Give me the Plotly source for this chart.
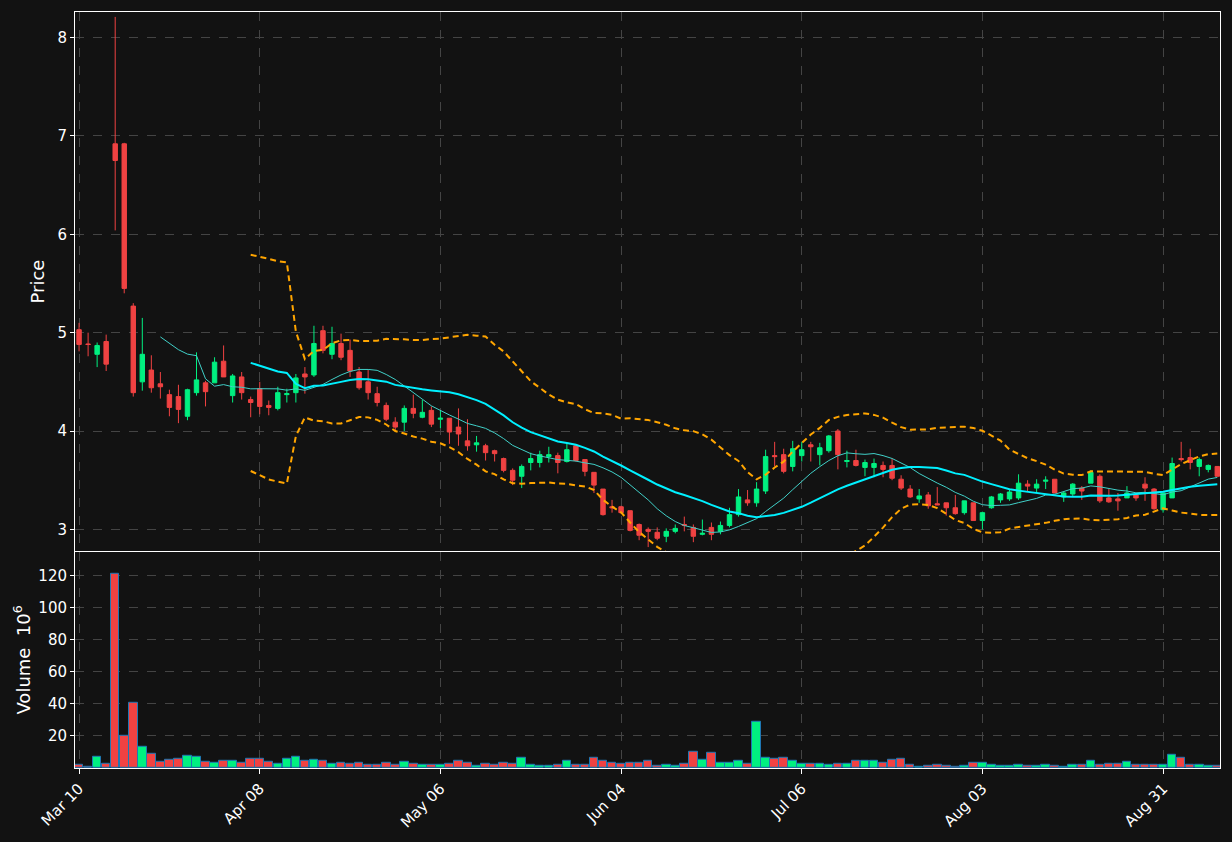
import plotly.graph_objects as go
import pandas as pd

opens = [5.03,4.885,4.78,4.91,6.92,6.92,5.27,4.50,4.62,4.48,4.37,4.35,4.15,4.39,4.49,4.49,4.71,4.36,4.55,4.32,
         4.43,4.26,4.23,4.37,4.39,4.58,4.57,5.02,4.78,4.89,4.82,4.60,4.50,4.38,4.26,4.09,4.09,4.23,4.14,4.21,
         4.12,4.13,4.04,3.90,3.86,3.85,3.80,3.72,3.60,3.54,3.68,3.68,3.74,3.75,3.69,3.85,3.71,3.58,3.41,3.23,
         3.23,3.19,3.05,3.00,2.97,2.93,2.98,3.05,3.02,2.95,3.02,2.98,3.04,3.15,3.30,3.27,3.39,3.75,3.76,3.64,
         3.75,3.86,3.76,3.80,4.00,3.69,3.70,3.63,3.63,3.65,3.65,3.51,3.41,3.31,3.35,3.26,3.27,3.22,3.17,3.27,
         3.09,3.22,3.30,3.31,3.32,3.46,3.42,3.49,3.51,3.33,3.36,3.42,3.47,3.54,3.32,3.31,3.32,3.35,3.46,3.41,
         3.20,3.32,3.72,3.73,3.64,3.61,3.64]
highs = [5.10,5.00,4.90,4.98,8.21,6.93,5.30,5.15,4.77,4.60,4.42,4.47,4.43,4.80,4.51,4.75,4.87,4.58,4.60,4.35,
         4.50,4.31,4.45,4.43,4.58,4.65,5.07,5.07,5.06,4.99,4.93,4.65,4.62,4.45,4.29,4.14,4.26,4.37,4.32,4.25,
         4.21,4.13,4.23,4.12,3.95,3.87,3.81,3.73,3.62,3.66,3.78,3.80,3.84,3.78,3.88,3.86,3.71,3.58,3.41,3.30,
         3.24,3.19,3.06,3.02,3.02,3.01,3.05,3.13,3.05,3.10,3.07,3.08,3.22,3.41,3.40,3.48,3.81,3.89,3.82,3.90,
         3.89,3.89,3.88,3.96,4.02,3.80,3.81,3.71,3.72,3.69,3.72,3.55,3.45,3.41,3.38,3.43,3.27,3.35,3.29,3.27,
         3.18,3.34,3.37,3.41,3.56,3.50,3.51,3.54,3.51,3.39,3.47,3.44,3.60,3.56,3.41,3.37,3.44,3.36,3.53,3.42,
         3.37,3.73,3.89,3.82,3.73,3.66,3.64]
lows = [4.81,4.76,4.65,4.61,6.04,5.40,4.35,4.41,4.39,4.33,4.15,4.08,4.11,4.36,4.25,4.49,4.55,4.29,4.32,4.14,
        4.17,4.16,4.21,4.29,4.29,4.38,4.55,4.79,4.73,4.72,4.55,4.42,4.32,4.25,4.10,4.01,4.00,4.13,4.13,4.04,
        4.03,3.87,3.85,3.80,3.79,3.70,3.69,3.58,3.45,3.42,3.60,3.63,3.68,3.57,3.68,3.69,3.54,3.37,3.14,3.17,
        3.16,2.98,2.89,2.82,2.89,2.87,2.96,2.98,2.87,2.94,2.89,2.95,3.02,3.13,3.24,3.23,3.36,3.64,3.57,3.59,
        3.69,3.69,3.65,3.78,3.61,3.63,3.64,3.54,3.53,3.53,3.50,3.40,3.32,3.27,3.21,3.25,3.14,3.15,3.15,3.09,
        3.00,3.21,3.27,3.29,3.30,3.39,3.37,3.41,3.37,3.28,3.34,3.30,3.47,3.27,3.27,3.19,3.32,3.29,3.29,3.20,
        3.17,3.32,3.69,3.61,3.54,3.58,3.54]
closes = [4.88,4.88,4.87,4.68,6.75,5.45,4.39,4.78,4.44,4.45,4.24,4.22,4.42,4.52,4.40,4.70,4.55,4.56,4.39,4.29,
          4.25,4.24,4.39,4.38,4.54,4.55,4.89,4.82,4.89,4.75,4.61,4.44,4.39,4.29,4.12,4.04,4.23,4.18,4.19,4.07,
          4.13,3.99,3.97,3.85,3.88,3.78,3.77,3.60,3.50,3.64,3.72,3.76,3.76,3.68,3.81,3.70,3.59,3.45,3.15,3.22,
          3.17,2.99,2.94,2.98,2.91,2.98,3.01,3.04,2.93,2.96,2.95,3.04,3.15,3.33,3.27,3.41,3.74,3.74,3.59,3.82,
          3.81,3.84,3.83,3.95,3.76,3.70,3.65,3.68,3.67,3.61,3.52,3.42,3.33,3.34,3.24,3.25,3.22,3.16,3.29,3.09,
          3.17,3.33,3.36,3.38,3.47,3.44,3.46,3.50,3.37,3.37,3.46,3.39,3.58,3.29,3.28,3.29,3.37,3.32,3.42,3.21,
          3.37,3.67,3.71,3.68,3.71,3.65,3.54]
volumes = [2,1,7,2.5,121,20,41,13,8.7,4,5,6,7.6,7,4,3,4.5,4.5,3,6,
           6,4,2.5,6,7,4.5,5,4.5,2.5,3,2.5,3,2,2,3,2,4,2.5,2,2,
           2,2.5,4.5,3,1.2,2.5,2,3,2.5,6.4,2,1.2,1.2,2,4.5,2,2,6.4,4.5,3,
           2.5,3,3,4.5,1.2,2,1.2,2.5,10,5,9.5,3,3,4.5,2.5,28.7,6.4,5.8,6.4,4.5,
           2.5,2.5,2.5,2,2.5,2.5,4.5,4.5,4.5,3,5,5.8,2,0.8,1.2,2,1.2,0.6,1.2,3,
           3,2,1.2,1.2,2,1.2,1.2,2,1.2,0.6,2,2,4.5,2,2.5,2.5,4,2,2,2,
           2,8.2,6.4,2,2,1.2,1.2]
tick_pos = [0, 20, 40, 60, 80, 100, 120]
tick_labels = ["Mar 10", "Apr 08", "May 06", "Jun 04", "Jul 06", "Aug 03", "Aug 31"]

UP, DOWN = "#00f080", "#f04242"
x = list(range(len(closes)))
c = pd.Series(closes)
ma10 = c.rolling(10).mean()
ma20 = c.rolling(20).mean()
sd20 = c.rolling(20).std(ddof=0)
upper = ma20 + 2 * sd20
lower = ma20 - 2 * sd20

fig = go.Figure()
fig.add_trace(go.Candlestick(x=x, open=opens, high=highs, low=lows, close=closes,
    increasing=dict(line=dict(color=UP, width=1), fillcolor=UP),
    decreasing=dict(line=dict(color=DOWN, width=1), fillcolor=DOWN),
    whiskerwidth=0, showlegend=False, hoverinfo="skip", xaxis="x", yaxis="y"))
fig.add_trace(go.Scatter(x=x, y=ma10, mode="lines", line=dict(color="#40d0c8", width=1), showlegend=False))
fig.add_trace(go.Scatter(x=x, y=ma20, mode="lines", line=dict(color="#00f0ff", width=2), showlegend=False))
for band in (upper, lower):
    fig.add_trace(go.Scatter(x=x, y=band, mode="lines",
                             line=dict(color="#ffa500", width=2, dash="6px,4px"), showlegend=False))
vcol = [UP if cl >= op else DOWN for op, cl in zip(opens, closes)]
fig.add_trace(go.Bar(x=x, y=volumes, marker=dict(color=vcol, line=dict(color="#1f77b4", width=1)),
                     width=0.95, showlegend=False, xaxis="x2", yaxis="y2"))

grid = dict(showgrid=True, gridcolor="#444444", griddash="dash", gridwidth=1)
fig.update_layout(
    width=1232, height=842, paper_bgcolor="#121212", plot_bgcolor="#121212",
    margin=dict(l=75, r=12, t=11, b=72),
    font=dict(family="DejaVu Sans", color="white", size=15),
    bargap=0,
    xaxis=dict(domain=[0, 1], range=[-0.45, 126.3], tickvals=tick_pos, showticklabels=False,
               rangeslider=dict(visible=False), showline=True, linecolor="white", mirror=True,
               anchor="y", zeroline=False, **grid),
    yaxis=dict(domain=[0.287, 1], range=[2.78, 8.26], dtick=1, title=dict(text="Price", standoff=8),
               showline=True, linecolor="white", mirror=True, ticks="outside", ticklen=4,
               tickcolor="white", zeroline=False, **grid),
    xaxis2=dict(domain=[0, 1], range=[-0.45, 126.3], tickvals=tick_pos, ticktext=tick_labels,
                tickangle=-45, anchor="y2", showline=True, linecolor="white", mirror=True,
                ticks="outside", ticklen=5, tickcolor="white", zeroline=False, **grid),
    yaxis2=dict(domain=[0, 0.286], range=[0, 135], tickvals=[20, 40, 60, 80, 100, 120],
                title=dict(text="Volume  10<sup>6</sup>", standoff=3), showline=True, linecolor="white",
                mirror=True, ticks="outside", ticklen=4, tickcolor="white", zeroline=False, **grid),
)
fig.write_html("out.html", config={"displayModeBar": False},
               post_script="document.body.style.margin='0';document.body.style.background='#121212';document.body.style.overflow='hidden';")
